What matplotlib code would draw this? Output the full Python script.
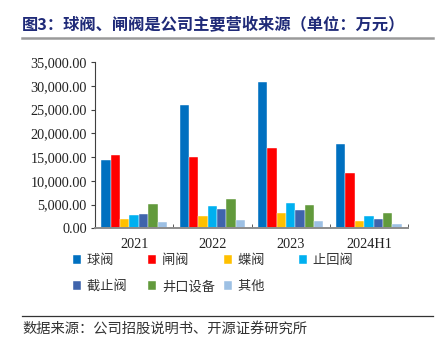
import numpy as np
import matplotlib
matplotlib.use('Agg')
import matplotlib.pyplot as plt
from matplotlib.ticker import FuncFormatter, FixedLocator

years = ['2021', '2022', '2023', '2024H1']
names = ['球阀', '闸阀', '蝶阀', '止回阀', '截止阀', '井口设备', '其他']
colors = ['#0070C0', '#FF0000', '#FFC000', '#00B0F0', '#3F64AC', '#629A3C', '#9DC0E4']

ball_valve = [14300, 26000, 30800, 17800]
gate_valve = [15400, 15100, 16900, 11600]
butterfly_valve = [1950, 2600, 3300, 1550]
check_valve = [2900, 4700, 5300, 2600]
globe_valve = [3000, 4050, 3850, 2000]
wellhead = [5050, 6150, 4900, 3200]
other = [1250, 1700, 1450, 850]
series = [ball_valve, gate_valve, butterfly_valve, check_valve, globe_valve, wellhead, other]

cjk = ['Noto Sans CJK SC', 'DejaVu Sans']
serif = 'Liberation Serif'

fig = plt.figure(figsize=(4.41, 3.58), dpi=100)
ax = fig.add_axes([95 / 441, 1 - 228.3 / 358, 313 / 441, 166.3 / 358])

x = np.arange(len(years))
w = 0.12
handles = []
for i, (vals, c) in enumerate(zip(series, colors)):
    b = ax.bar(x + (i - 3) * w, vals, w, color=c, edgecolor='white', linewidth=0.3)
    handles.append(b)

ax.set_xlim(-0.5, 3.5)
ax.set_ylim(0, 35000)
ax.set_yticks(np.arange(0, 35001, 5000))
ax.yaxis.set_major_formatter(FuncFormatter(lambda v, p: f'{v:,.2f}'))
ax.set_xticks(x)
ax.set_xticklabels(years)
ax.xaxis.set_minor_locator(FixedLocator([-0.5, 0.5, 1.5, 2.5, 3.5]))
ax.tick_params(axis='x', which='major', length=0, pad=7)
ax.tick_params(axis='x', which='minor', direction='in', length=3, color='#404040')
ax.tick_params(axis='y', length=3, color='#404040', pad=3)
for lab in ax.get_xticklabels() + ax.get_yticklabels():
    lab.set_fontfamily(serif)
    lab.set_fontsize(10.3)
    lab.set_color('#222222')
for s in ['top', 'right']:
    ax.spines[s].set_visible(False)
ax.spines['left'].set_color('#404040')
ax.spines['left'].set_linewidth(0.8)
ax.spines['bottom'].set_color('#8C8C8C')
ax.spines['bottom'].set_linewidth(1.4)

# legend: reorder so that it reads row by row
order = [0, 4, 1, 5, 2, 6, 3]
leg = fig.legend([handles[k] for k in order],
                 [names[k].ljust(4, '\u3000') for k in order],
                 ncol=4, loc='upper left', bbox_to_anchor=(73 / 441, 1 - 254 / 358),
                 frameon=False, prop={'family': cjk, 'size': 9.5},
                 handlelength=0.6, handleheight=0.6, handletextpad=0.45,
                 columnspacing=0.65, labelspacing=1.0, borderpad=0, borderaxespad=0)
for t in leg.get_texts():
    t.set_color('#333333')

# title and source
fig.text(22 / 441, 1 - 25 / 358, '图3：球阀、闸阀是公司主要营收来源（单位：万元）',
         family=cjk, fontsize=11.7, fontweight='bold', color='#1F2A78', va='center', ha='left')
fig.add_artist(plt.Line2D([22 / 441, 433 / 441], [1 - 37.5 / 358] * 2, color='#9A9A9A', lw=1.8))
fig.add_artist(plt.Line2D([22 / 441, 433 / 441], [1 - 315.5 / 358] * 2, color='#333333', lw=0.9))
fig.text(22 / 441, 1 - 329 / 358, '数据来源：公司招股说明书、开源证券研究所',
         family=cjk, fontsize=10.3, color='#333333', va='center', ha='left')

fig.savefig('out.png', dpi=100)
